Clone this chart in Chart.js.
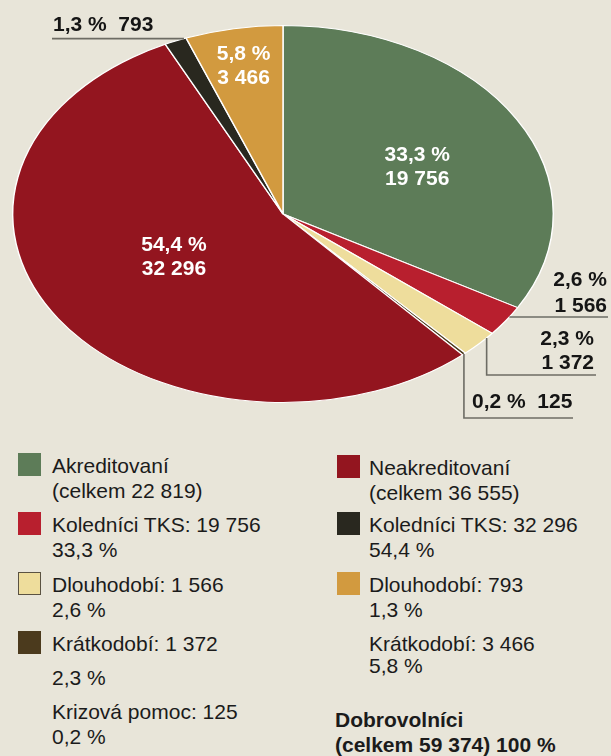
<!DOCTYPE html>
<html>
<head>
<meta charset="utf-8">
<script src="https://cdn.jsdelivr.net/npm/chart.js@4/dist/chart.umd.min.js"></script>
<style>
  html, body { margin: 0; padding: 0; background: #e8e5d9; }
  body { width: 611px; height: 756px; position: relative; overflow: hidden;
         font-family: "Liberation Sans", Arial, Helvetica, sans-serif; color: #1b1b1b; }
  #pie { position: absolute; left: 0; top: 0; }
  .box { position: absolute; width: 23px; height: 23px; box-sizing: border-box; }
  .txt { position: absolute; font-size: 21px; line-height: 25px; white-space: nowrap; }
</style>
</head>
<body>
<canvas id="pie" width="611" height="440"></canvas>
<div id="legend"></div>
<script>
// data
const categories = ['Akreditovaní – Koledníci TKS', 'Akreditovaní – Dlouhodobí', 'Akreditovaní – Krátkodobí',
  'Akreditovaní – Krizová pomoc', 'Neakreditovaní – Koledníci TKS', 'Neakreditovaní – Dlouhodobí',
  'Neakreditovaní – Krátkodobí'];
const values = [19756, 1566, 1372, 125, 32296, 793, 3466];
const percentLabels = ['33,3 %', '2,6 %', '2,3 %', '0,2 %', '54,4 %', '1,3 %', '5,8 %'];
const valueLabels = ['19 756', '1 566', '1 372', '125', '32 296', '793', '3 466'];
const sliceColors = ['#5d7c58', '#b81f2e', '#eedd9c', '#4b3a1d', '#93151f', '#29281f', '#d29a3f'];

// legend as printed
const legendLeft = [
  { color: '#5d7c58', lines: ['Akreditovaní', '(celkem 22 819)'], base: 473 },
  { color: '#b81f2e', lines: ['Koledníci TKS: 19 756', '33,3 %'], base: 532 },
  { color: '#eedd9c', border: '#5a5242', lines: ['Dlouhodobí: 1 566', '2,6 %'], base: 592 },
  { color: '#4b3a1d', lines: ['Krátkodobí: 1 372'], base: 651 },
  { color: null, lines: ['2,3 %'], base: 685 },
  { color: null, lines: ['Krizová pomoc: 125', '0,2 %'], base: 719 }
];
const legendRight = [
  { color: '#93151f', lines: ['Neakreditovaní', '(celkem 36 555)'], base: 475 },
  { color: '#29281f', lines: ['Koledníci TKS: 32 296', '54,4 %'], base: 532 },
  { color: '#d29a3f', lines: ['Dlouhodobí: 793', '1,3 %'], base: 592 },
  { color: null, lines: ['Krátkodobí: 3 466', '5,8 %'], base: 651, gap: 22 },
  { color: null, bold: true, lines: ['Dobrovolníci', '(celkem 59 374) 100 %'], base: 727 }
];

const SX = 271 / 189; // the pie is stretched into an ellipse
const FONT = '"Liberation Sans", Arial, sans-serif';

function pointAt(arc, t, f) {
  const a = arc.startAngle + (arc.endAngle - arc.startAngle) * t;
  const r = arc.outerRadius * f;
  return { x: arc.x + Math.cos(a) * r * SX, y: arc.y + Math.sin(a) * r };
}

const ellipse = {
  id: 'ellipse',
  beforeDatasetsDraw(chart) {
    const arc = chart.getDatasetMeta(0).data[0];
    const ctx = chart.ctx;
    ctx.save();
    ctx.translate(arc.x, arc.y);
    ctx.scale(SX, 1);
    ctx.translate(-arc.x, -arc.y);
  },
  afterDatasetsDraw(chart) {
    chart.ctx.restore();
  }
};

const sliceLabels = {
  id: 'sliceLabels',
  afterDraw(chart) {
    const ctx = chart.ctx;
    const arcs = chart.getDatasetMeta(0).data;
    ctx.save();
    ctx.font = 'bold 21px ' + FONT;

    // labels inside the big slices: [index, position along slice, radius fraction]
    const inside = [[0, 0.53, 0.555], [4, 0.52, 0.465], [6, 0.5, 0.8]];
    ctx.fillStyle = '#ffffff';
    ctx.textAlign = 'center';
    ctx.textBaseline = 'middle';
    inside.forEach(([k, t, f]) => {
      const p = pointAt(arcs[k], t, f);
      ctx.fillText(percentLabels[k], p.x, p.y - 12);
      ctx.fillText(valueLabels[k], p.x, p.y + 12);
    });

    // leader lines for the small ones
    ctx.strokeStyle = '#6d6c64';
    ctx.lineWidth = 1.6;
    ctx.fillStyle = '#151515';
    ctx.textBaseline = 'alphabetic';

    const line = pts => {
      ctx.beginPath();
      ctx.moveTo(pts[0].x, pts[0].y);
      pts.slice(1).forEach(q => ctx.lineTo(q.x, q.y));
      ctx.stroke();
    };

    let a = pointAt(arcs[1], 0.35, 1);
    line([a, { x: 608, y: a.y }]);
    ctx.textAlign = 'right';
    ctx.fillText(percentLabels[1], 607, a.y - 31);
    ctx.fillText(valueLabels[1], 607, a.y - 5);

    a = pointAt(arcs[2], 0.22, 1);
    line([a, { x: a.x, y: 375 }, { x: 596, y: 375 }]);
    ctx.fillText(percentLabels[2], 594, 345);
    ctx.fillText(valueLabels[2], 594, 369);

    a = pointAt(arcs[3], 0.5, 1);
    line([a, { x: a.x, y: 418 }, { x: 573, y: 418 }]);
    ctx.textAlign = 'left';
    ctx.fillText(percentLabels[3] + '  ' + valueLabels[3], 472, 408);

    a = pointAt(arcs[5], 0.9, 1);
    line([{ x: 52, y: a.y }, a]);
    ctx.fillText(percentLabels[5] + '  ' + valueLabels[5], 53, a.y - 8);

    ctx.restore();
  }
};

new Chart(document.getElementById('pie'), {
  type: 'pie',
  data: {
    labels: categories,
    datasets: [{
      data: values,
      backgroundColor: sliceColors,
      borderColor: '#ffffff',
      borderWidth: 1
    }]
  },
  options: {
    responsive: false,
    animation: false,
    layout: { padding: { left: 94, right: 139, top: 25, bottom: 37 } },
    plugins: { legend: { display: false }, tooltip: { enabled: false } }
  },
  plugins: [ellipse, sliceLabels]
});

// legend
const legend = document.getElementById('legend');
function addColumn(items, boxX, textX, boldX) {
  items.forEach(it => {
    if (it.color) {
      const b = document.createElement('div');
      b.className = 'box';
      b.style.left = boxX + 'px';
      b.style.top = (it.base - 20) + 'px';
      b.style.background = it.color;
      if (it.border) b.style.border = '1px solid ' + it.border;
      legend.appendChild(b);
    }
    it.lines.forEach((s, j) => {
      const t = document.createElement('div');
      t.className = 'txt';
      t.textContent = s;
      t.style.left = (it.bold ? boldX : textX) + 'px';
      t.style.top = (it.base - 20 + j * (it.gap || 25)) + 'px';
      if (it.bold) t.style.fontWeight = 'bold';
      legend.appendChild(t);
    });
  });
}
addColumn(legendLeft, 18, 52, 18);
addColumn(legendRight, 337, 369, 335);
</script>
</body>
</html>
